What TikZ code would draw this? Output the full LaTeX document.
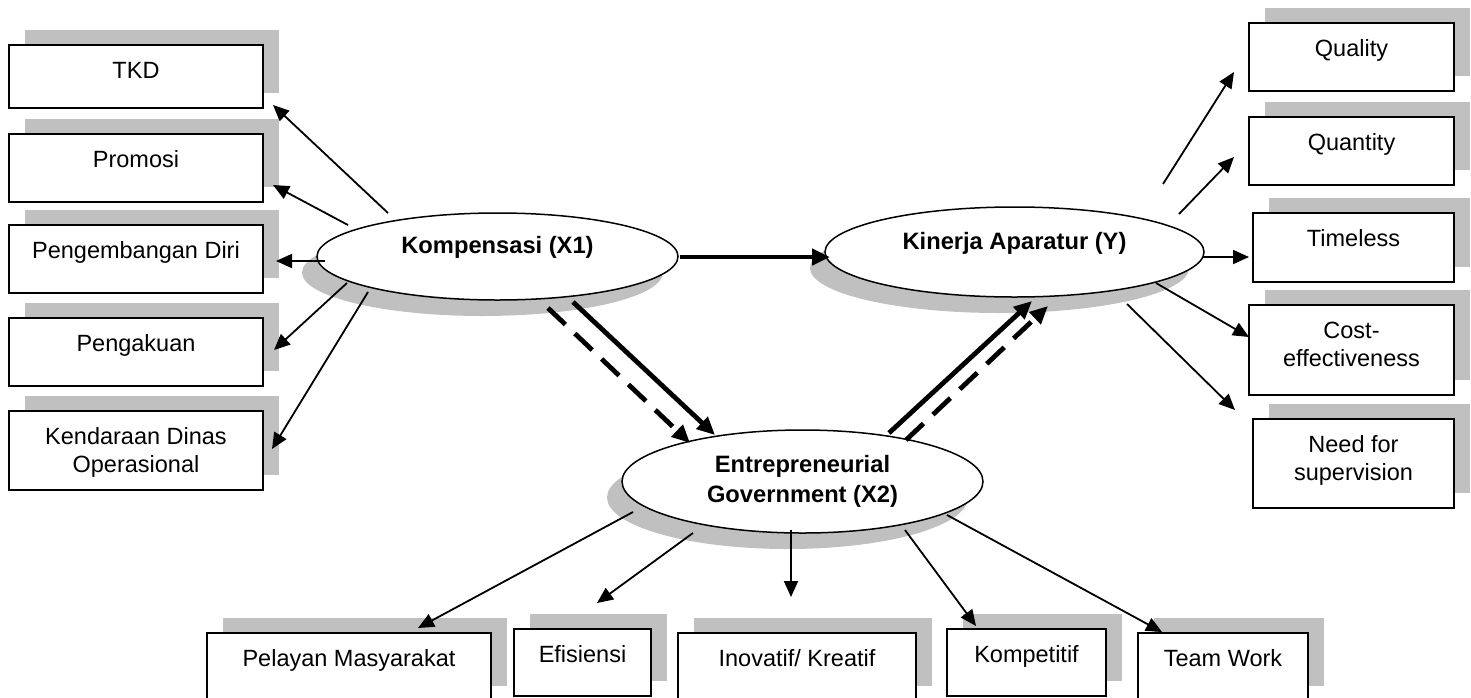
\documentclass[tikz,border=0pt]{standalone}
\usepackage{fontspec}
\setmainfont{Liberation Sans}
\usetikzlibrary{arrows.meta,shapes.geometric,shadows}
\definecolor{shgray}{RGB}{192,192,192}
\newcommand{\bt}[3]{\parbox[c][#2][t]{#1}{\centering\vspace*{15.9pt}\rule{0pt}{17.5pt}#3\par}}
\begin{document}
\begin{tikzpicture}[x=1pt,y=-1pt,
  every node/.style={font=\fontsize{23.5pt}{28pt}\selectfont},
  box/.style={draw, line width=1.7pt, fill=white, inner sep=0pt,
    general shadow={fill=shgray, shadow xshift=16pt, shadow yshift=15.5pt}},
  ell/.style={ellipse, draw, line width=1.5pt, fill=white, inner sep=0pt, align=center,
    general shadow={fill=shgray, shadow xshift=-15pt, shadow yshift=-16pt},
    font=\bfseries\fontsize{23.7pt}{30pt}\selectfont},
  thinarr/.style={line width=1.8pt, -{Triangle[length=16pt,width=14pt]}},
  thickarr/.style={line width=4.8pt, -{Triangle[length=18pt,width=16pt]}},
  dasharr/.style={thickarr, dash pattern=on 24pt off 13pt}]
\useasboundingbox (0,0) rectangle (1471,697);
\clip (0,0) rectangle (1471,697);

% left boxes
\node[box] (tkd)  at (136,76.5)  {\bt{254pt}{63pt}{TKD}};
\node[box] (prom) at (136,168)   {\bt{254pt}{68pt}{Promosi}};
\node[box] (pdiri) at (136,259)  {\bt{254pt}{68pt}{Pengembangan Diri}};
\node[box] (peng) at (136,352)   {\bt{254pt}{68pt}{Pengakuan}};
\node[box] (kend) at (136,450.5) {\bt{254pt}{79pt}{Kendaraan Dinas\\Operasional}};

% right boxes
\node[box] (qual) at (1351.5,57)   {\bt{205pt}{68pt}{Quality}};
\node[box] (quan) at (1351.5,151)  {\bt{205pt}{68pt}{Quantity}};
\node[box] (time) at (1353.5,247.5) {\bt{201pt}{69pt}{Timeless}};
\node[box] (cost) at (1351.5,350)  {\bt{205pt}{90pt}{Cost-\\effectiveness}};
\node[box] (need) at (1353.5,463.5) {\bt{201pt}{89pt}{Need for\\supervision}};

% bottom boxes
\node[box] (pel)  at (349,667)    {\bt{284pt}{68pt}{Pelayan Masyarakat}};
\node[box] (efi)  at (582.5,662.5) {\bt{137pt}{67pt}{Efisiensi}};
\node[box] (ino)  at (797,667)    {\bt{238pt}{68pt}{Inovatif/ Kreatif}};
\node[box] (komt) at (1026.5,662.5) {\bt{159pt}{67pt}{Kompetitif}};
\node[box] (team) at (1223,667)   {\bt{170pt}{68pt}{Team Work}};

% ellipses
\node[ell, minimum width=361pt, minimum height=87pt] (komp) at (497.5,256.5)
  {\raisebox{9.5pt}[\height][\depth]{Kompensasi (X1)}};
\node[ell, minimum width=379pt, minimum height=90pt] (kin) at (1014.5,252)
  {\raisebox{9pt}[\height][\depth]{Kinerja Aparatur (Y)}};
\node[ell, minimum width=361pt, minimum height=103pt] (ent) at (802.5,481.5)
  {Entrepreneurial\\Government (X2)};

% connector end points
\coordinate (a1s) at (388,213); \coordinate (a1t) at (273,105);
\coordinate (a2s) at (348,225); \coordinate (a2t) at (273,185);
\coordinate (a3s) at (325,261); \coordinate (a3t) at (276,261);
\coordinate (a4s) at (347,283); \coordinate (a4t) at (274,350);
\coordinate (a5s) at (368,292); \coordinate (a5t) at (272,449);

\coordinate (b1s) at (680,257); \coordinate (b1t) at (830,257);
\coordinate (b2s) at (573,302); \coordinate (b2t) at (715,435);
\coordinate (b3s) at (548,308); \coordinate (b3t) at (690,443);
\coordinate (b4s) at (889,433); \coordinate (b4t) at (1032,301);
\coordinate (b5s) at (906,440); \coordinate (b5t) at (1048,306);

\coordinate (c1s) at (1163,184); \coordinate (c1t) at (1234,72);
\coordinate (c2s) at (1179,214); \coordinate (c2t) at (1234,157);
\coordinate (c3s) at (1203,257); \coordinate (c3t) at (1249,257);
\coordinate (c4s) at (1156,283); \coordinate (c4t) at (1249,337);
\coordinate (c5s) at (1127,304); \coordinate (c5t) at (1235,410);

\coordinate (d1s) at (633,512); \coordinate (d1t) at (418,628);
\coordinate (d2s) at (693,533); \coordinate (d2t) at (597,603);
\coordinate (d3s) at (791,530); \coordinate (d3t) at (791,597);
\coordinate (d4s) at (905,530); \coordinate (d4t) at (976,626);
\coordinate (d5s) at (947,515); \coordinate (d5t) at (1162,632);

% Kompensasi indicators
\draw[thinarr] (a1s) -- (a1t);
\draw[thinarr] (a2s) -- (a2t);
\draw[thinarr] (a3s) -- (a3t);
\draw[thinarr] (a4s) -- (a4t);
\draw[thinarr] (a5s) -- (a5t);

% structural paths
\draw[thickarr] (b1s) -- (b1t);
\draw[thickarr] (b2s) -- (b2t);
\draw[dasharr]  (b3s) -- (b3t);
\draw[thickarr] (b4s) -- (b4t);
\draw[dasharr]  (b5s) -- (b5t);

% Kinerja indicators
\draw[thinarr] (c1s) -- (c1t);
\draw[thinarr] (c2s) -- (c2t);
\draw[thinarr] (c3s) -- (c3t);
\draw[thinarr] (c4s) -- (c4t);
\draw[thinarr] (c5s) -- (c5t);

% Entrepreneurial indicators
\draw[thinarr] (d1s) -- (d1t);
\draw[thinarr] (d2s) -- (d2t);
\draw[thinarr] (d3s) -- (d3t);
\draw[thinarr] (d4s) -- (d4t);
\draw[thinarr] (d5s) -- (d5t);
\end{tikzpicture}
\end{document}
